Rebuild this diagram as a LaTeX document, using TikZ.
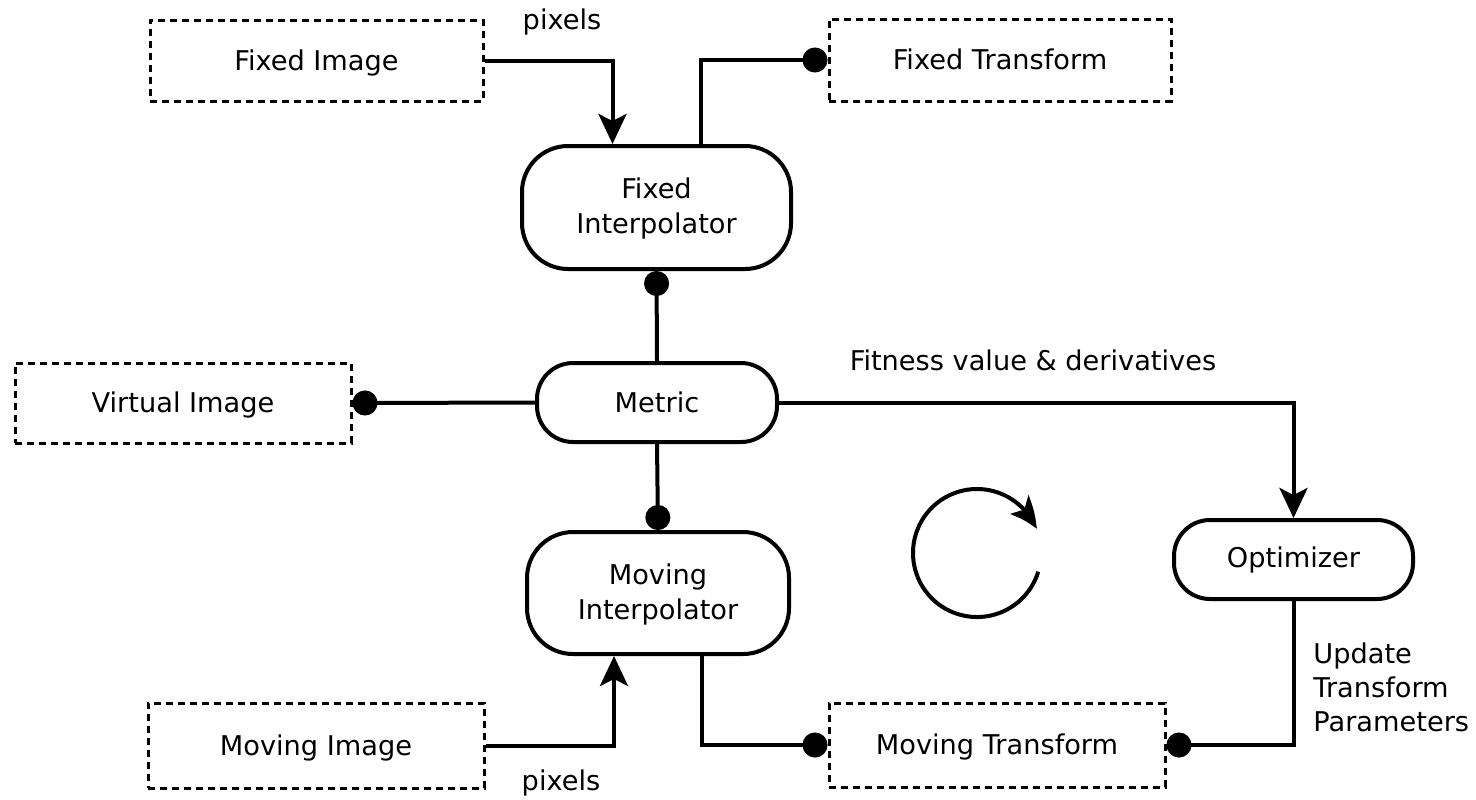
\documentclass[tikz,border=0pt]{standalone}
\usepackage{fontspec}
\setmainfont{DejaVu Sans}
\usetikzlibrary{arrows.meta,calc,bending}
\newcommand{\twoline}[2]{\raisebox{-1pt}[\height][\depth]{\begin{tabular}{@{}c@{}}#1\\[0.5pt]#2\end{tabular}}}
\begin{document}
\begin{tikzpicture}[x=0.5pt,y=-0.5pt,
  every node/.style={font=\fontsize{13.6}{17}\selectfont},
  dbox/.style={draw, line width=1.5pt, dash pattern=on 3.5pt off 2.5pt, inner sep=0pt, text depth=0.5pt},
  rbox/.style={draw, line width=2pt, align=center, inner sep=0pt},
  conn/.style={line width=2pt},
  arr/.style={conn, -{Stealth[length=15pt,width=14pt,inset=3.5pt]}},
  dotend/.style={conn, -{Circle[length=12.5pt,width=12.5pt]}}
]
\useasboundingbox (0,0) rectangle (1476,799);

% dashed boxes
\node[dbox, minimum width=166.5pt, minimum height=40.5pt] (fimg) at (316.5,60.5) {Fixed Image};
\node[dbox, minimum width=171pt, minimum height=41pt] (ftr) at (1000,60) {Fixed Transform};
\node[dbox, minimum width=168pt, minimum height=40pt] (vimg) at (183,403) {Virtual Image};
\node[dbox, minimum width=168pt, minimum height=42.5pt] (mimg) at (316,745.5) {Moving Image};
\node[dbox, minimum width=168pt, minimum height=42pt] (mtr) at (997,745) {Moving Transform};

% rounded boxes
\node[rbox, rounded corners=23pt, minimum width=134.5pt, minimum height=61.5pt] (finterp) at (656.5,207.5) {\twoline{Fixed}{Interpolator}};
\node[rbox, rounded corners=18pt, minimum width=120pt, minimum height=39.5pt] (metric) at (657,402.5) {Metric};
\node[rbox, rounded corners=23pt, minimum width=131pt, minimum height=61pt] (minterp) at (658,593) {\twoline{Moving}{Interpolator}};
\node[rbox, rounded corners=18pt, minimum width=119.5pt, minimum height=39.5pt] (opt) at (1293.5,559.5) {Optimizer};

% labels
\node (pix1) at (562,22) {pixels};
\node (pix2) at (561,783) {pixels};
\node (fit) at (1033,360) {Fitness value \& derivatives};
\node[anchor=north west, align=left, inner sep=0pt] (upd) at (1313,642) {Update\\Transform\\Parameters};

% connectors
\draw[arr] (fimg.east) -| ([xshift=-22pt]finterp.north);
\draw[dotend] ([xshift=22pt]finterp.north) |- (ftr.west);
\draw[dotend] (metric.north) -- (finterp.south);
\draw[dotend] (metric.west) -- (vimg.east);
\draw[dotend] (metric.south) -- (minterp.north);
\draw[arr] (metric.east) -| (opt.north);
\draw[dotend] (opt.south) |- (mtr.east);
\draw[arr] (mimg.east) -| ([xshift=-22pt]minterp.south);
\draw[dotend] ([xshift=22pt]minterp.south) |- (mtr.west);

% loop symbol
\coordinate (lc) at (977,553);
\draw[conn, -{Stealth[length=15pt,width=13pt,inset=3.5pt,bend]}] ([shift={(-17:32pt)}]lc) arc[start angle=-17, end angle=-338, radius=32pt];
\end{tikzpicture}
\end{document}
